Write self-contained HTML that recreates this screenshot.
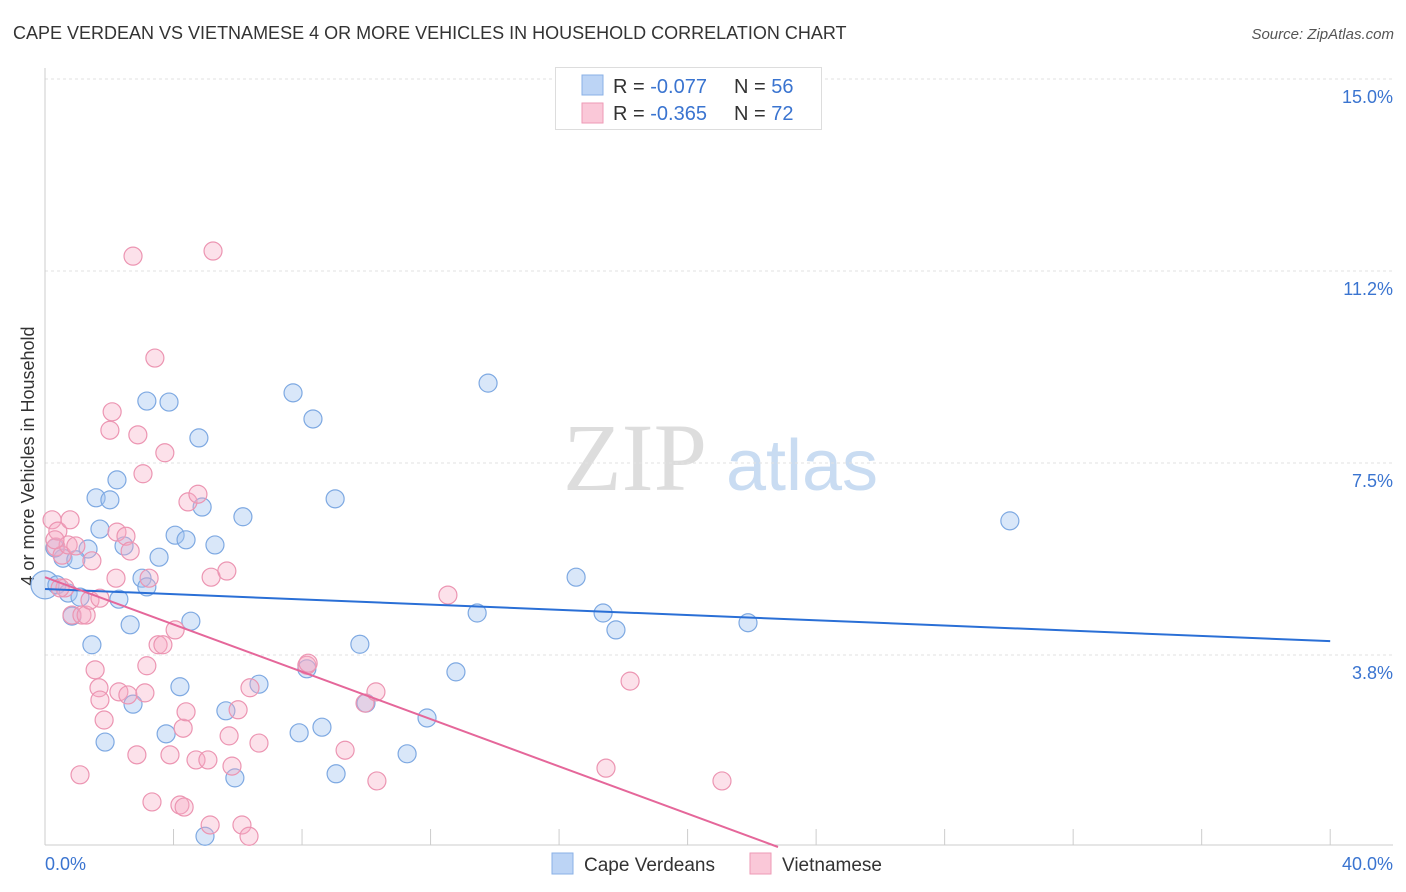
<!DOCTYPE html>
<html><head><meta charset="utf-8"><style>
body{margin:0;background:#fff;font-family:"Liberation Sans",sans-serif;}
svg{display:block}
</style></head><body>
<svg id="chart" width="1406" height="892">
<text x="13" y="39" font-size="18" fill="#333">CAPE VERDEAN VS VIETNAMESE 4 OR MORE VEHICLES IN HOUSEHOLD CORRELATION CHART</text>
<text x="1394" y="39" font-size="15" fill="#555" font-style="italic" text-anchor="end">Source: ZipAtlas.com</text>
<text x="34" y="456" font-size="18" fill="#333" text-anchor="middle" transform="rotate(-90 34 456)">4 or more Vehicles in Household</text>
<g><text x="635" y="490" font-size="96" fill="#ddd" font-family="Liberation Serif,serif" text-anchor="middle">ZIP</text><text x="802" y="490" font-size="72" fill="#c9dcf2" text-anchor="middle">atlas</text></g>
<g id="grid"></g><g id="axes"></g><g id="pts"></g><g id="lines"></g>
<g>
<rect x="555.5" y="67.5" width="266" height="62" fill="#fff" stroke="#ddd"/>
<rect x="582" y="75" width="21" height="20" fill="#bcd4f5" stroke="#8ab0e6"/>
<rect x="582" y="103" width="21" height="20" fill="#fac8d8" stroke="#ee9ab6"/>
<text x="613" y="93" font-size="20" fill="#333">R = <tspan fill="#3a74d0">-0.077</tspan><tspan x="734">N = </tspan><tspan fill="#3a74d0">56</tspan></text>
<text x="613" y="120" font-size="20" fill="#333">R = <tspan fill="#3a74d0">-0.365</tspan><tspan x="734">N = </tspan><tspan fill="#3a74d0">72</tspan></text>
</g>
<g>
<rect x="552" y="853" width="21" height="21" fill="#bcd4f5" stroke="#8ab0e6"/>
<text x="584" y="871" font-size="19" fill="#333">Cape Verdeans</text>
<rect x="750" y="853" width="21" height="21" fill="#fac8d8" stroke="#ee9ab6"/>
<text x="782" y="871" font-size="19" fill="#333">Vietnamese</text>
</g>
</svg>
<script>
const yTicks=[3.75,7.5,11.25,15];
const yTickLabels=["3.8%","7.5%","11.2%","15.0%"];
const xTicks=[0,4,8,12,16,20,24,28,32,36,40];
const blueX=[0,0.37,0.72,0.84,1.09,1.34,1.46,1.59,1.71,1.87,2.02,2.24,2.30,2.46,2.65,2.74,3.02,3.17,3.17,3.55,3.77,3.86,4.05,4.20,4.39,4.54,4.79,4.89,5.29,5.63,5.91,6.16,6.66,7.72,7.91,8.15,8.34,8.62,9.03,9.06,9.80,9.99,11.27,11.89,12.79,13.45,13.79,16.53,17.37,17.77,21.88,30.03,4.98,0.56,0.96,0.31];
const blueY=[5.12,5.12,4.96,4.51,4.88,5.82,3.95,6.82,6.21,2.05,6.78,7.17,4.84,5.88,4.34,2.79,5.25,8.71,5.08,5.66,2.21,8.69,6.09,3.13,6.00,4.41,7.99,6.64,5.90,2.66,1.35,6.45,3.18,8.87,2.23,3.48,8.36,2.34,6.80,1.43,3.96,2.81,1.82,2.52,3.42,4.57,9.06,5.27,4.57,4.24,4.38,6.37,0.21,5.64,5.61,5.84];
const pinkX=[0.22,0.34,0.40,0.53,0.62,0.72,0.78,0.84,0.96,1.09,1.15,1.28,1.40,1.46,1.56,1.68,1.71,1.84,2.02,2.09,2.21,2.24,2.30,2.52,2.58,2.65,2.74,2.86,2.89,3.05,3.11,3.17,3.24,3.33,3.42,3.52,3.67,3.73,3.89,4.05,4.20,4.30,4.33,4.39,4.45,4.70,4.76,5.07,5.14,5.17,5.23,5.66,5.73,5.82,6.01,6.13,6.35,6.38,6.66,8.15,8.19,9.34,9.96,10.30,10.33,12.54,17.46,18.21,21.07,1.71,0.47,0.31];
const pinkY=[6.39,5.86,6.17,5.70,5.06,5.90,6.39,4.53,5.88,1.41,4.53,4.53,4.82,5.59,3.46,3.11,2.87,2.48,8.14,8.50,5.25,6.15,3.03,6.07,2.97,5.78,11.54,1.80,8.05,7.29,3.01,3.54,5.25,0.88,9.55,3.95,3.95,7.70,1.80,4.24,0.82,2.32,0.78,2.64,6.74,1.70,6.89,1.70,0.43,5.27,11.64,5.39,2.17,1.58,2.68,0.43,0.21,3.11,2.03,3.55,3.59,1.89,2.81,3.03,1.29,4.92,1.54,3.24,1.29,4.86,5.06,6.00];
const blueTrend=[5.04,-0.0255];
const pinkTrend=[5.27,-0.231];
const X=v=>45+v*32.13, Y=v=>847-v*51.2;
const NS="http://www.w3.org/2000/svg";
function mk(tag,attrs,parent){const e=document.createElementNS(NS,tag);for(const k in attrs)e.setAttribute(k,attrs[k]);document.getElementById(parent).appendChild(e);return e;}
yTicks.forEach((t,i)=>{
 const l=mk('line',{x1:45,x2:1393,y1:Y(t),y2:Y(t),stroke:'#e2e2e2','stroke-dasharray':'3,3'},'grid');
 
 
 const tx=mk('text',{x:1393,y:Y(t)+24,'font-size':18,fill:'#3a74d0','text-anchor':'end'},'grid');
 tx.textContent=yTickLabels[i];
 
 
});
const ax=mk('line',{x1:45,x2:1393,y1:845,y2:845,stroke:'#ccc'},'axes');


const ay=mk('line',{x1:45,x2:45,y1:68,y2:845,stroke:'#ccc'},'axes');


xTicks.forEach(t=>{
 const l=mk('line',{x1:X(t),x2:X(t),y1:829,y2:845,stroke:'#ccc'},'axes');
 
 
});
const xl0=mk('text',{x:45,y:870,'font-size':18,fill:'#3a74d0'},'axes');xl0.textContent='0.0%';


const xl1=mk('text',{x:1393,y:870,'font-size':18,fill:'#3a74d0','text-anchor':'end'},'axes');xl1.textContent='40.0%';


blueX.forEach((v,i)=>{
 const c=mk('circle',{cx:X(v),cy:Y(blueY[i]),r:i===0?14:9,fill:'rgba(160,195,240,0.4)',stroke:'#7ea9e2','stroke-width':1.2},'pts');
 
 
});
pinkX.forEach((v,i)=>{
 const c=mk('circle',{cx:X(v),cy:Y(pinkY[i]),r:9,fill:'rgba(245,170,195,0.35)',stroke:'#ec95b2','stroke-width':1.2},'pts');
 
 
});
const bl=mk('line',{x1:X(0),y1:Y(blueTrend[0]),x2:X(40),y2:Y(blueTrend[0]+blueTrend[1]*40),stroke:'#2a6fd6','stroke-width':2},'lines');


const xe=-pinkTrend[0]/pinkTrend[1];
const pl=mk('line',{x1:X(0),y1:Y(pinkTrend[0]),x2:X(xe),y2:Y(0),stroke:'#e5679a','stroke-width':2},'lines');


</script>
</body></html>
